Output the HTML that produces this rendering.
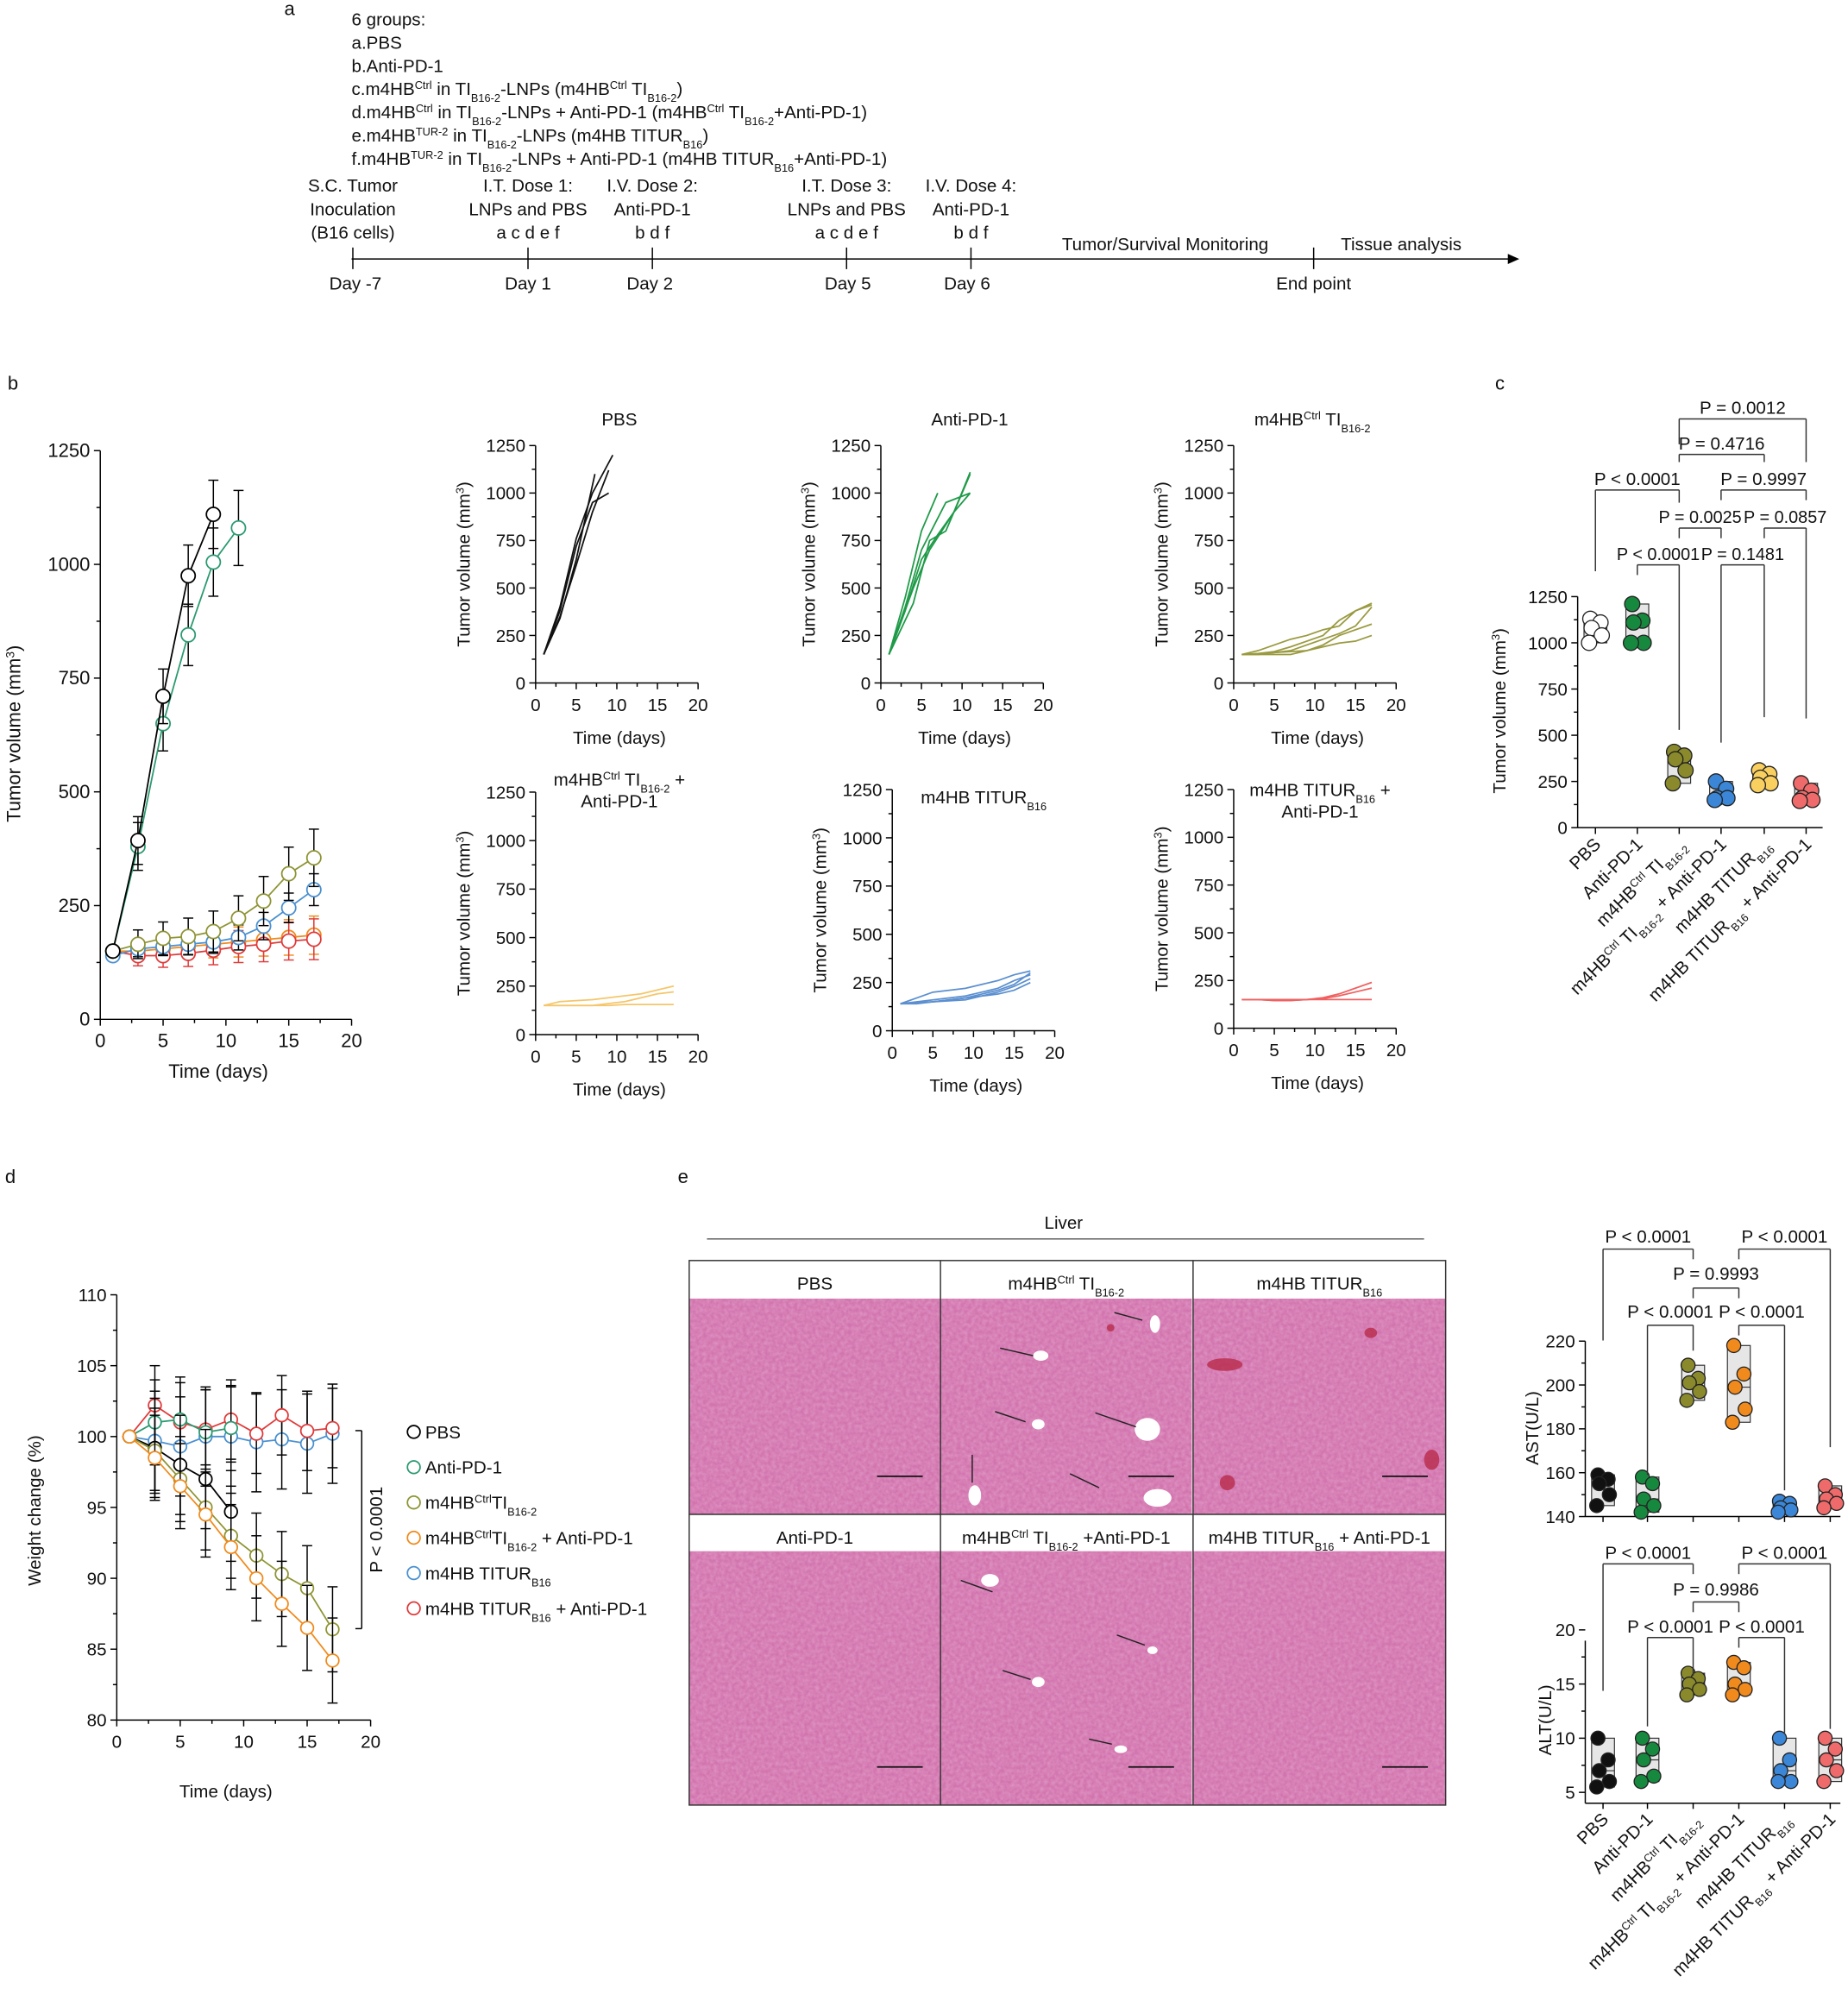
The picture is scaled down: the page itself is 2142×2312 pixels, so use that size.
<!DOCTYPE html>
<html><head><meta charset="utf-8"><style>
html,body{margin:0;padding:0;background:#fff}
svg{display:block}
text{font-family:"Liberation Sans",Arial,sans-serif;fill:#111}
</style></head><body>
<svg id="s" xmlns="http://www.w3.org/2000/svg" width="2142" height="2312" viewBox="0 0 1456 1571.6" preserveAspectRatio="none"></svg>
<script>
let s='';
function L(x1,y1,x2,y2,c='#000',w=1){s+=`<line x1="${x1}" y1="${y1}" x2="${x2}" y2="${y2}" stroke="${c}" stroke-width="${w}"/>`}
function T(x,y,str,sz=14,anc='start',extra=''){s+=`<text x="${x}" y="${y}" font-size="${sz}" text-anchor="${anc}" ${extra}>${str}</text>`}
function TR(x,y,str,sz,anc,rot){s+=`<text x="0" y="0" font-size="${sz}" text-anchor="${anc}" transform="translate(${x},${y}) rotate(${rot})">${str}</text>`}
const sp=v=>`<tspan baseline-shift="super" font-size="62%">${v}</tspan>`;
const sb=v=>`<tspan baseline-shift="sub" font-size="62%">${v}</tspan>`;
function C(x,y,r,stroke,fill,w=1){s+=`<circle cx="${x}" cy="${y}" r="${r}" stroke="${stroke}" fill="${fill}" stroke-width="${w}"/>`}
function PL(pts,c,w=1){s+=`<polyline points="${pts.map(p=>p.join(',')).join(' ')}" fill="none" stroke="${c}" stroke-width="${w}"/>`}
function axes(o){
 const X=v=>o.x0+(v-o.xmin)/(o.xmax-o.xmin)*(o.x1-o.x0);
 const Y=v=>o.y0-(v-o.ymin)/(o.ymax-o.ymin)*(o.y0-o.y1);
 const fs=o.fs||14;
 L(o.x0,o.y0,o.xe||o.x1,o.y0); L(o.x0,o.y0,o.x0,o.ytop||o.y1);
 o.yt.forEach((v,i)=>{L(o.x0-5,Y(v),o.x0,Y(v));T(o.x0-8,Y(v)+5,v,fs,'end');
   if(o.ym&&i<o.yt.length-1){const m=(v+o.yt[i+1])/2;L(o.x0-3,Y(m),o.x0,Y(m));}});
 if(o.xt) o.xt.forEach((v,i)=>{L(X(v),o.y0,X(v),o.y0+5);T(X(v),o.y0+22,v,fs,'middle');
   if(i<o.xt.length-1){const m=(v+o.xt[i+1])/2;L(X(m),o.y0,X(m),o.y0+3);}});
 return [X,Y];
}
// ---------- panel a
T(224,12,'a',15);
const ga=[['6 groups:'],['a.PBS'],['b.Anti-PD-1'],
[`c.m4HB${sp('Ctrl')} in TI${sb('B16-2')}-LNPs (m4HB${sp('Ctrl')} TI${sb('B16-2')})`],
[`d.m4HB${sp('Ctrl')} in TI${sb('B16-2')}-LNPs + Anti-PD-1 (m4HB${sp('Ctrl')} TI${sb('B16-2')}+Anti-PD-1)`],
[`e.m4HB${sp('TUR-2')} in TI${sb('B16-2')}-LNPs (m4HB TITUR${sb('B16')})`],
[`f.m4HB${sp('TUR-2')} in TI${sb('B16-2')}-LNPs + Anti-PD-1 (m4HB TITUR${sb('B16')}+Anti-PD-1)`]];
ga.forEach((g,i)=>T(277,20+i*18.3,g[0],14));
L(277,204,1190,204);
s+=`<polygon points="1197,204 1188,200 1188,208" fill="#000"/>`;
[278,416,514,667,765,1035].forEach(x=>L(x,195,x,212));
const cols=[[278,['S.C. Tumor','Inoculation','(B16 cells)']],[416,['I.T. Dose 1:','LNPs and PBS','a c d e f']],[514,['I.V. Dose 2:','Anti-PD-1','b d f']],[667,['I.T. Dose 3:','LNPs and PBS','a c d e f']],[765,['I.V. Dose 4:','Anti-PD-1','b d f']]];
cols.forEach(c=>c[1].forEach((t,i)=>T(c[0],151+i*18.5,t,14,'middle')));
T(918,197,'Tumor/Survival Monitoring',14,'middle');T(1104,197,'Tissue analysis',14,'middle');
[[280,'Day -7'],[416,'Day 1'],[512,'Day 2'],[668,'Day 5'],[762,'Day 6'],[1035,'End point']].forEach(d=>T(d[0],228,d[1],14,'middle'));
// ---------- panel b main
T(6,307,'b',15);
let [X,Y]=axes({x0:79,x1:277,y0:803,y1:355,xmin:0,xmax:20,ymin:0,ymax:1250,xt:[0,5,10,15,20],yt:[0,250,500,750,1000,1250],ym:1,fs:15});
TR(16,578,'Tumor volume (mm'+sp('3')+')',15,'middle',-90);
T(172,849,'Time  (days)',15,'middle');
const days=[1,3,5,7,9,11,13,15,17];
const mb=[
['#f08a1c',[150,150,155,160,165,170,175,180,185],30],
['#e03a3a',[150,140,140,145,152,160,165,172,176],32],
['#4a90d0',[140,155,160,165,170,180,205,245,285],25],
['#8f9434',[150,165,178,182,193,222,260,320,355],45],
['#2a9a70',[150,380,650,845,1005,1080],75],
['#000',[150,393,710,975,1110],75]];
mb.forEach(m=>{const pts=m[1].map((v,i)=>[X(days[i]),Y(v)]);PL(pts,m[0],1.2);
 m[1].forEach((v,i)=>{if(i>0){const e=m[2]*(0.6+i*0.1);const c=(m[0]=='#e03a3a'||m[0]=='#f08a1c')?m[0]:'#000';
  L(X(days[i]),Y(v-e),X(days[i]),Y(v+e),c,1);L(X(days[i])-4,Y(v-e),X(days[i])+4,Y(v-e),c);L(X(days[i])-4,Y(v+e),X(days[i])+4,Y(v+e),c);}
  C(X(days[i]),Y(v),5.5,m[0],'#fff',1.2);});});
// ---------- small plots
function small(x0,y0,ytop,title,color,lines,tx,ty){
 const [X,Y]=axes({x0:x0,x1:x0+128,y0:y0,y1:ytop,xmin:0,xmax:20,ymin:0,ymax:1250,xt:[0,5,10,15,20],yt:[0,250,500,750,1000,1250],ym:1,fs:14});
 TR(x0-52,(y0+ytop)/2,'Tumor volume (mm'+sp('3')+')',14,'middle',-90);
 T(x0+66,y0+48,'Time  (days)',14,'middle');
 lines.forEach(l=>PL(l.map((v,i)=>[X(l.d?l.d[i]:days[i]),Y(v)]),color,1.2));
 title.forEach((t,i)=>T(tx,ty+i*17,t,14,'middle'));
}
const pbs=[[150,340,650,1100],[150,380,720,950,1000],[150,350,620,900,1120],[150,400,760,1000,1200]];
pbs[0].d=[1,3,5,7.3];pbs[3].d=[1,3,5,7,9.5];
small(422,538,351,['PBS'],'#111',pbs,488,335);
const ant=[[150,450,800,1000],[150,500,700,900,1000],[150,400,700,950,1000],[150,420,750,800,1100],[150,380,650,780,900,1110]];
ant[0].d=[1,3,5,7];ant[1].d=[1,4,6,9,11];ant[2].d=[1,3,5,8,11];ant[3].d=[1,4,6,8,11];ant[4].d=[1,3,5,7,9,11];
small(694,538,351,['Anti-PD-1'],'#1f9a48',ant,764,335);
small(972,538,351,[`m4HB${sp('Ctrl')} TI${sb('B16-2')}`],'#9a9a40',[[150,155,160,170,200,230,260,300,400],[150,170,200,230,250,280,300,380,420],[150,150,160,165,170,200,250,280,310],[150,150,150,150,170,190,210,220,250],[150,155,165,190,220,250,330,380,410]],1034,335);
small(422,815,624,[`m4HB${sp('Ctrl')} TI${sb('B16-2')}  +`,'Anti-PD-1'],'#f5c66a',[[150,170,175,180,190,200,210,230,250],[150,150,150,150,160,170,190,210,220],[150,150,150,150,150,155,155,155,155]],488,619);
small(703,812,622,[`m4HB TITUR${sb('B16')}`],'#5b8fd0',[[140,170,200,210,220,240,260,290,310],[140,150,160,170,180,200,220,260,290],[140,145,150,160,170,180,190,210,250],[140,140,150,160,170,190,210,240,300],[140,145,150,155,160,180,200,230,270]],775,633);
small(972,810,622,[`m4HB TITUR${sb('B16')} +`,'Anti-PD-1'],'#f06060',[[150,150,145,145,150,160,180,210,240],[150,150,145,145,150,155,170,190,210],[150,150,150,150,150,150,150,150,150]],1040,627);
// ---------- panel c
T(1178,307,'c',15);
[X,Y]=axes({x0:1243,x1:1436,y0:652,y1:470,xmin:0,xmax:1,ymin:0,ymax:1250,yt:[0,250,500,750,1000,1250],ym:1,fs:14});
TR(1186,560,'Tumor volume (mm'+sp('3')+')',14,'middle',-90);
const gc=[1257,1290,1323,1356,1390,1423];
function dots(gx,vals,Y,fill,r=6){const mn=Math.min(...vals),mx=Math.max(...vals);const med=vals.slice().sort((a,b)=>a-b)[2];
 s+=`<rect x="${gx-9}" y="${Y(mx)}" width="18" height="${Y(mn)-Y(mx)}" fill="#e6e6e6" stroke="#333" stroke-width="0.8"/>`;L(gx-9,Y(med),gx+9,Y(med),'#333',0.8);
 const j=[-4,4,-3,5,-5];vals.forEach((v,i)=>C(gx+j[i],Y(v),r,'#222',fill,0.9));}
const cd=[[[1130,1110,1080,1040,1000],'#fff'],[[1210,1120,1110,1000,1000],'#17893f'],[[410,390,370,310,240],'#8a8a2c'],[[250,210,160,160,150],'#3b86d6'],[[310,290,270,240,230],'#f9cf5f'],[[240,200,160,150,145],'#ef6b6b']];
cd.forEach((d,i)=>{L(gc[i],652,gc[i],657);dots(gc[i],d[0],Y,d[1]);});
const clab=['PBS','Anti-PD-1',`m4HB${sp('Ctrl')} TI${sb('B16-2')}`,`m4HB${sp('Ctrl')} TI${sb('B16-2')} + Anti-PD-1`,`m4HB TITUR${sb('B16')}`,`m4HB TITUR${sb('B16')} + Anti-PD-1`];
clab.forEach((t,i)=>TR(gc[i]+5,666,t,14,'end',-45));
function br(x1,x2,y,h1,h2,label,ty,fs=14){L(x1,y,x2,y,'#333');L(x1,y,x1,y+h1,'#333');L(x2,y,x2,y+h2,'#333');if(label)T((x1+x2)/2,ty,label,fs,'middle');}
br(1323,1423,330,20,34,'P = 0.0012',326);
br(1323,1390,358,6,6,'P = 0.4716',354);
br(1257,1323,386,64,10,'P &lt; 0.0001',382);
br(1356,1423,386,8,8,'P = 0.9997',382);
br(1323,1356,416,8,8,'P = 0.0025',412,13.5);
br(1390,1423,416,8,150,'P = 0.0857',412,13.5);
br(1290,1323,445,8,130,'P &lt; 0.0001',441,13.5);
br(1356,1390,445,140,120,'P = 0.1481',441,13.5);
// ---------- panel d
T(4,932,'d',15);
[X,Y]=axes({x0:92,x1:292,y0:1355,y1:1020,xmin:0,xmax:20,ymin:80,ymax:110,xt:[0,5,10,15,20],yt:[80,85,90,95,100,105,110],ym:1,fs:14});
TR(32,1190,'Weight change (%)',14,'middle',-90);
T(178,1416,'Time  (days)',14,'middle');
const md=[
['#4a90d0',[100,99.7,99.3,100,100,99.6,99.8,99.5,100.2],3.5],
['#e03a3a',[100,102.2,101,100.5,101.2,100.2,101.5,100.4,100.6],2.8],
['#2a9a70',[100,101,101.2,100.3,100.6],3],
['#000',[100,99.2,98,97,94.7],3.5],
['#8f9434',[100,99,97,95,93,91.6,90.3,89.3,86.4],3],
['#f08a1c',[100,98.5,96.5,94.5,92.2,90,88.2,86.5,84.2],3]];
md.forEach(m=>{const pts=m[1].map((v,i)=>[X(days[i]),Y(v)]);PL(pts,m[0],1.2);
 m[1].forEach((v,i)=>{if(i>0){const e=m[2];L(X(days[i]),Y(v-e),X(days[i]),Y(v+e),'#000');L(X(days[i])-4,Y(v-e),X(days[i])+4,Y(v-e));L(X(days[i])-4,Y(v+e),X(days[i])+4,Y(v+e));}
 C(X(days[i]),Y(v),5,m[0],'#fff',1.2);});});
L(280,1127,285,1127);L(285,1127,285,1283);L(280,1283,285,1283);
TR(301,1205,'P &lt; 0.0001',14,'middle',-90);
const leg=[['#000','PBS'],['#2a9a70','Anti-PD-1'],['#8f9434',`m4HB${sp('Ctrl')}TI${sb('B16-2')}`],['#f08a1c',`m4HB${sp('Ctrl')}TI${sb('B16-2')}  + Anti-PD-1`],['#4a90d0',`m4HB TITUR${sb('B16')}`],['#e03a3a',`m4HB TITUR${sb('B16')} + Anti-PD-1`]];
leg.forEach((l,i)=>{const y=1128+i*27.8;C(326,y,5,l[0],'#fff',1.2);T(335,y+5,l[1],14);});
// ---------- panel e
T(534,932,'e',15);
T(838,968,'Liver',14,'middle');L(557,976,1122,976,'#555');
s+=`<defs><filter id="tx" x="0" y="0" width="100%" height="100%"><feTurbulence type="fractalNoise" baseFrequency="0.35" numOctaves="2" seed="3"/><feColorMatrix values="0 0 0 0 0.84  0 0 0 0 0.47  0 0 0 0 0.70  0 0 0 -1.2 0.9"/><feComposite in2="SourceGraphic" operator="in"/></filter></defs>`;
const panels=[[543,993,'PBS'],[741,993,`m4HB${sp('Ctrl')} TI${sb('B16-2')}`],[940,993,`m4HB TITUR${sb('B16')}`],[543,1193,'Anti-PD-1'],[741,1193,`m4HB${sp('Ctrl')} TI${sb('B16-2')} +Anti-PD-1`],[940,1193,`m4HB TITUR${sb('B16')} + Anti-PD-1`]];
panels.forEach((p,i)=>{const w=(i%3==2)?199:198;const top=i>2?29:30;const h=i>2?200:170;
 s+=`<rect x="${p[0]}" y="${p[1]+top}" width="${w}" height="${h}" fill="#d274ae"/>`;
 s+=`<rect x="${p[0]}" y="${p[1]+top}" width="${w}" height="${h}" fill="#d47ab2" filter="url(#tx)" opacity="0.6"/>`;
 T(p[0]+w/2,p[1]+23,p[2],14,'middle');
 L(p[0]+w-50,p[1]+top+h-30,p[0]+w-14,p[1]+top+h-30,'#111',1.2);
});
s+=`<rect x="543" y="993" width="596" height="429" fill="none" stroke="#333" stroke-width="1"/>`;
L(741,993,741,1422,'#333');L(940,993,940,1422,'#333');L(543,1193,1139,1193,'#333');
// vessels & arrows
[[820,1068,6,4],[818,1122,5,4],[904,1126,10,9],[912,1180,11,7],[910,1043,4,7],[768,1178,5,8],[780,1245,7,5],[818,1325,5,4],[908,1300,4,3],[883,1378,5,3]].forEach(v=>s+=`<ellipse cx="${v[0]}" cy="${v[1]}" rx="${v[2]}" ry="${v[3]}" fill="#fff"/>`);
[[788,1062,814,1068],[784,1112,808,1120],[863,1113,895,1124],[843,1161,866,1172],[878,1034,900,1040],[766,1146,766,1168],[757,1245,782,1254],[790,1316,812,1323],[880,1288,902,1296],[858,1370,876,1374]].forEach(a=>L(a[0],a[1],a[2],a[3],'#222',1));
[[965,1075,14,5],[1080,1050,5,4],[1128,1150,6,8],[967,1168,6,6],[875,1046,3,3]].forEach(v=>s+=`<ellipse cx="${v[0]}" cy="${v[1]}" rx="${v[2]}" ry="${v[3]}" fill="#b82a4a" opacity="0.8"/>`);
// AST
let [XA,YA]=axes({x0:1249,x1:1450,y0:1194.7,y1:1056.5,xmin:0,xmax:1,ymin:140,ymax:220,yt:[140,160,180,200,220],ym:1,fs:14});
TR(1212,1125,'AST(U/L)',14,'middle',-90);
const ge=[1263,1298,1334,1370,1406,1442];
const ast=[[[159,157,155,150,145],'#111'],[[158,155,148,145,142],'#17893f'],[[209,203,201,197,193],'#8a8a2c'],[[218,205,199,189,183],'#f08a1c'],[[147,146,144,143,142],'#3b86d6'],[[154,150,148,146,144],'#ef6b6b']];
ast.forEach((d,i)=>{L(ge[i],1194.7,ge[i],1199);dots(ge[i],d[0],YA,d[1],5.5);});
br(1263,1334,984,72,8,'P &lt; 0.0001',979);
br(1370,1442,984,8,156,'P &lt; 0.0001',979);
br(1334,1370,1014.7,8,8,'P = 0.9993',1008);
br(1298,1334,1044,118,20,'P &lt; 0.0001',1038);
br(1370,1406,1044,8,130,'P &lt; 0.0001',1038);
// ALT
let [XB,YB]=axes({x0:1249,x1:1450,y0:1420.5,y1:1292.5,xmin:0,xmax:1,ymin:4,ymax:19,yt:[5,10,15,20],ym:1,fs:14});
TR(1222,1355,'ALT(U/L)',14,'middle',-90);
const alt=[[[10,8,7,6,5.5],'#111'],[[10,9,8,6.5,6],'#17893f'],[[16,15.5,15,14.5,14],'#8a8a2c'],[[17,16.5,15,14.5,14],'#f08a1c'],[[10,8,7,6,6],'#3b86d6'],[[10,9,8,7,6],'#ef6b6b']];
alt.forEach((d,i)=>{L(ge[i],1420.5,ge[i],1425);dots(ge[i],d[0],YB,d[1],5.5);});
br(1263,1334,1232,100,8,'P &lt; 0.0001',1228);
br(1370,1442,1232,8,130,'P &lt; 0.0001',1228);
br(1334,1370,1262,8,8,'P = 0.9986',1257);
br(1298,1334,1290,70,30,'P &lt; 0.0001',1286);
br(1370,1406,1290,8,75,'P &lt; 0.0001',1286);
clab.forEach((t,i)=>TR(ge[i]+5,1434,t,14,'end',-45));
document.getElementById('s').innerHTML=s;
</script>
</body></html>
